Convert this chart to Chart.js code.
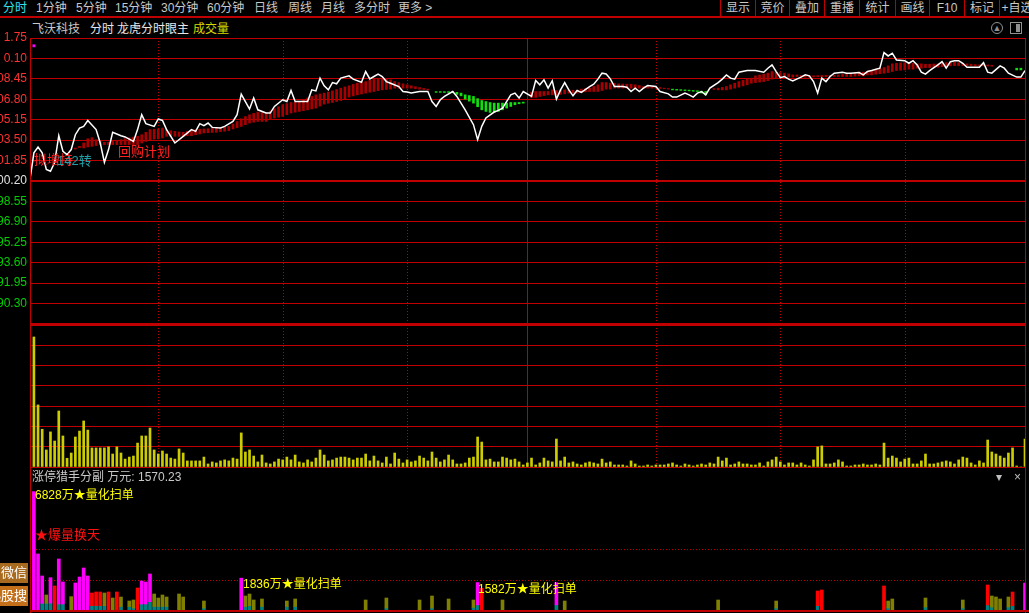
<!DOCTYPE html>
<html>
<head>
<meta charset="utf-8">
<script src="https://cdn.jsdelivr.net/npm/chart.js@4.4.0/dist/chart.umd.min.js"></script>
<style>
body{margin:0;background:#000;width:1029px;height:613px;overflow:hidden;position:relative;font-family:"Liberation Sans","Noto Sans CJK SC",sans-serif;font-size:12px;color:#c8c8c8}
.t{position:absolute;white-space:nowrap;line-height:14px;height:14px}
.sep{position:absolute;top:0;width:1px;height:17px;background:#c00000}
.vline{position:absolute;top:38px;width:1px;height:575px;background:#c00000}
.btn{position:absolute;left:0;width:28px;height:20px;overflow:hidden;color:#fff;font-size:13px}
.btn span{position:absolute;right:1px;top:1px;white-space:nowrap;line-height:18px}
canvas{position:absolute;left:0}
</style>
</head>
<body>
<div id="toolbar"></div>
<div style="position:absolute;left:0;top:16px;width:1029px;height:2px;background:#c00000"></div>

<div class="t" style="left:32px;top:22px">飞沃科技</div>
<div class="t" style="left:90px;top:22px;color:#e8e8e8">分时</div>
<div class="t" style="left:117px;top:22px;color:#e8e8e8">龙虎分时眼主</div>
<div class="t" style="left:193px;top:22px;color:#d8d800">成交量</div>
<div style="position:absolute;left:991px;top:22px;width:10px;height:10px;border:1px solid #909090;border-radius:6px;color:#909090;font-size:9px;line-height:10px;text-align:center">▲</div>
<div style="position:absolute;left:1010px;top:22px;width:10px;height:10px;border:1px solid #909090"><div style="position:absolute;right:1px;top:1px;width:4px;height:8px;background:#909090"></div></div>

<canvas id="price" width="1029" height="300" style="top:28px"></canvas>
<canvas id="vol" width="1029" height="147" style="top:323px"></canvas>
<canvas id="sub" width="1029" height="130" style="top:483px"></canvas>

<div class="vline" style="left:30px"></div>
<div class="vline" style="left:1025px"></div>

<div class="t" style="left:34px;top:153px;color:#ff2020;font-size:13px">拟增持</div>
<div class="t" style="left:57px;top:154px;color:#20a0a8;font-size:13px">142转</div>
<div class="t" style="left:118px;top:145px;color:#ff2020;font-size:13px">回购计划</div>

<div class="t" style="left:32px;top:470px">涨停猎手分副 万元: 1570.23</div>
<div class="t" style="left:996px;top:470px;color:#c0c0c0">▾</div>
<div class="t" style="left:1014px;top:470px;color:#c0c0c0">×</div>

<div class="t" style="left:35px;top:488px;color:#ffff00">6828万★量化扫单</div>
<div class="t" style="left:35px;top:528px;color:#ff1010;font-size:13px">★爆量换天</div>
<div class="t" style="left:243px;top:577px;color:#ffff00">1836万★量化扫单</div>
<div class="t" style="left:478px;top:582px;color:#ffff00">1582万★量化扫单</div>

<div class="btn" style="top:563px;background:#a86a1e"><span>加微信</span></div>
<div class="btn" style="top:586px;background:#c4701a"><span>热股搜</span></div>

<script>
const toolbarLeft = [['分时',3,'#30e0f0'],['1分钟',36],['5分钟',76],['15分钟',115],['30分钟',161],['60分钟',207],['日线',254],['周线',288],['月线',321],['多分时',354],['更多 >',398]]
const toolbarRight = ['显示','竞价','叠加','重播','统计','画线','F10','标记','+自选']
const toolbarSeps = [720,755,789,824,859,895,929,964,999]

const minuteMin = -0.94
const minuteMax = 239
const dottedMinutes = [30,60,90,150,180,210]
const middayMinute = 119

const priceTicks = [111.75,110.10,108.45,106.80,105.15,103.50,101.85,100.20,98.55,96.90,95.25,93.60,91.95,90.30,88.65]
const priceLabels = ['1.75','0.10','08.45','06.80','05.15','03.50','01.85','00.20','98.55','96.90','95.25','93.60','91.95','90.30','']
const prevClose = 100.20

const priceMinute = [-1,0,1,2,3,4,5,6,7,8,9,10,11,12,13,15,16,17,18,19,21,22,24,25,26,27,29,30,31,32,34,36,38,39,
  40,41,42,43,45,46,48,49,50,51,52,53,54,56,57,58,60,61,62,63,66,67,68,69,70,71,72,73,74,76,77,79,
  80,81,82,83,84,85,86,88,89,90,91,93,95,96,97,98,99,101,102,104,106,107,108,109,111,112,113,115,116,117,118,
  120,121,122,123,124,125,126,127,128,129,130,131,132,134,135,136,137,138,139,140,142,143,144,145,146,147,148,150,151,153,154,155,157,158,159,
  160,161,162,163,165,166,167,168,169,170,172,174,176,177,178,179,180,181,182,183,185,186,187,188,189,190,191,192,193,195,196,197,199,
  200,201,202,204,205,206,207,208,210,211,212,213,214,215,216,218,219,220,221,222,223,224,225,228,229,230,231,233,234,235,237,238,239]
const priceValue = [100.18,102.47,102.95,102.47,101.13,100.99,101.69,103.86,102.60,102.33,102.74,103.94,104.48,104.61,105.09,104.35,103.27,101.71,102.74,104.13,103.86,103.76,103.40,104.35,105.55,104.83,104.61,105.21,105.09,104.35,103.27,103.81,104.35,104.21,
  104.83,104.67,104.88,104.53,104.48,104.61,105.01,105.55,107.22,106.62,106.01,106.90,105.95,105.69,105.69,106.22,106.76,106.62,107.51,106.62,106.62,107.56,107.48,108.51,107.89,107.56,108.15,108.05,108.51,108.69,108.43,108.18,
  109.04,108.45,108.64,108.83,108.64,108.23,108.10,107.83,107.43,107.38,107.30,107.43,107.43,106.62,106.22,106.76,107.03,107.43,107.03,105.95,104.75,103.54,104.61,105.29,105.77,105.90,106.09,107.16,107.30,106.90,107.43,
  107.03,108.31,107.97,108.37,107.70,108.30,106.82,107.56,108.15,107.56,107.08,107.51,107.35,107.83,108.02,108.43,108.91,108.85,108.45,107.83,107.83,107.78,107.43,107.70,107.43,107.70,107.91,107.83,107.43,107.24,106.98,106.98,107.30,107.16,106.98,
  107.30,107.43,107.16,107.70,108.15,108.43,108.77,108.51,108.43,108.99,109.12,109.12,108.99,109.31,109.58,109.04,108.55,108.64,108.43,108.29,108.59,108.77,108.69,108.23,107.30,108.51,108.23,108.64,108.91,108.99,108.91,108.91,108.96,
  108.77,109.04,109.12,109.31,110.57,110.30,110.52,109.98,109.92,109.71,109.92,109.58,108.99,108.83,109.12,109.58,109.84,109.31,109.84,109.92,109.92,109.71,109.39,109.39,109.76,108.99,108.91,109.50,109.31,108.91,108.59,108.59,109.12]

// 龙虎分时眼主: [minute, low, high]
const redBars = [
  [10,102.78,102.86],[11,102.90,103.00],[12,102.87,103.27],[13,102.95,103.62],[14,103.00,103.70],[15,103.06,103.54],[16,103.14,103.40],[17,103.14,103.32],[18,103.14,103.32],[19,103.14,103.40],
  [20,103.14,103.48],[21,103.14,103.54],[22,103.14,103.62],[23,103.14,103.68],[24,103.14,103.75],[25,103.14,103.81],[26,103.27,103.94],[27,103.40,104.13],[28,103.54,104.35],[29,103.58,104.38],
  [30,103.60,104.40],[31,103.68,104.48],[32,103.81,104.35],[33,103.81,104.26],[34,103.81,104.21],[35,103.81,104.16],[36,103.81,104.13],[37,103.86,104.21],[38,103.86,104.29],[39,103.94,104.35],
  [40,104.00,104.38],[41,104.08,104.40],[42,104.10,104.42],[43,104.12,104.45],[44,104.13,104.48],[45,104.18,104.52],[46,104.22,104.56],[47,104.26,104.61],[48,104.40,104.80],[49,104.50,105.00],
  [50,104.61,105.23],[51,104.75,105.40],[52,104.88,105.55],[53,104.95,105.66],[54,105.01,105.77],[55,105.01,105.73],[56,105.01,105.69],[57,105.15,105.85],[58,105.29,106.04],[59,105.36,106.20],
  [60,105.42,106.36],[61,105.55,106.45],[62,105.69,106.54],[63,105.76,106.58],[64,105.82,106.62],[65,105.88,106.76],[66,105.95,106.90],[67,106.02,107.03],[68,106.09,107.16],[69,106.25,107.23],
  [70,106.41,107.30],[71,106.48,107.39],[72,106.54,107.48],[73,106.62,107.59],[74,106.70,107.70],[75,106.84,107.80],[76,106.98,107.89],[77,107.07,108.00],[78,107.16,108.10],[79,107.23,108.16],
  [80,107.30,108.23],[81,107.37,108.33],[82,107.43,108.43],[83,107.50,108.47],[84,107.56,108.51],[85,107.59,108.44],[86,107.62,108.37],[87,107.70,108.23],[88,107.70,108.14],[89,107.70,108.05],
  [90,107.70,107.97],[91,107.70,107.89],[92,107.66,107.82],[93,107.62,107.75],[94,107.59,107.68],[95,107.56,107.62],
  [120,106.95,107.38],[121,106.95,107.43],[122,107.03,107.43],[123,107.10,107.43],[124,107.16,107.43],[125,107.16,107.56],[126,107.16,107.51],[127,107.20,107.54],[128,107.24,107.56],[129,107.30,107.56],
  [130,107.30,107.53],[131,107.30,107.51],[132,107.35,107.62],[133,107.40,107.66],[134,107.43,107.70],[135,107.43,107.83],[136,107.43,107.97],[137,107.51,108.15],[138,107.62,108.15],[139,107.62,108.10],
  [140,107.70,108.10],[141,107.70,108.05],[142,107.70,108.03],[143,107.70,108.02],[144,107.70,108.02],[145,107.70,107.97],[146,107.70,107.91],[147,107.70,107.83],[148,107.70,107.83],[149,107.70,107.80],
  [150,107.70,107.78],[151,107.67,107.75],[152,107.65,107.70],[153,107.62,107.67],
  [164,107.60,107.66],[165,107.56,107.70],[166,107.56,107.76],[167,107.56,107.83],[168,107.62,107.97],[169,107.70,108.10],
  [170,107.78,108.23],[171,107.88,108.33],[172,107.97,108.43],[173,108.10,108.51],[174,108.15,108.69],[175,108.19,108.76],[176,108.23,108.83],[177,108.31,108.91],[178,108.43,109.04],[179,108.51,108.99],
  [180,108.59,108.96],[181,108.59,108.91],[182,108.59,108.85],[183,108.59,108.77],[184,108.64,108.77],[185,108.62,108.72],[186,108.59,108.69],[187,108.60,108.69],[188,108.61,108.70],[189,108.62,108.71],
  [190,108.62,108.72],[191,108.63,108.73],[192,108.63,108.74],[193,108.64,108.75],[194,108.64,108.77],[195,108.64,108.81],[196,108.64,108.85],[197,108.64,108.91],[198,108.67,108.95],[199,108.69,108.99],
  [200,108.69,108.99],[201,108.77,109.04],[202,108.77,109.12],[203,108.83,109.23],[204,108.87,109.30],[205,108.91,109.36],[206,108.96,109.50],[207,109.04,109.66],[208,109.12,109.71],[209,109.15,109.74],
  [210,109.17,109.76],[211,109.23,109.76],[212,109.23,109.71],[213,109.31,109.66],[214,109.31,109.66],[215,109.36,109.63],[216,109.36,109.63],[217,109.38,109.65],[218,109.39,109.66],[219,109.44,109.71],
  [220,109.50,109.76],[221,109.50,109.79],[222,109.52,109.79],[223,109.52,109.76],[224,109.52,109.71],[225,109.52,109.66],[226,109.52,109.63],[227,109.51,109.60],[228,109.50,109.58],[229,109.50,109.58],
  [230,109.49,109.57],[231,109.47,109.55]
]
const greenBars = [
  [97,107.36,107.42],[98,107.36,107.42],[99,107.35,107.42],[100,107.35,107.42],[101,107.33,107.40],[102,107.20,107.36],[103,107.08,107.30],[104,106.82,107.16],[105,106.65,107.10],[106,106.49,107.03],
  [107,106.20,106.85],[108,105.95,106.70],[109,105.82,106.62],[110,105.74,106.54],[111,105.74,106.49],[112,105.82,106.49],[113,105.95,106.49],[114,106.09,106.49],[115,106.22,106.54],[116,106.36,106.54],
  [117,106.44,106.54],[118,106.49,106.57],
  [154,107.56,107.62],[155,107.54,107.60],[156,107.52,107.58],[157,107.50,107.56],[158,107.48,107.54],[159,107.45,107.51],[160,107.43,107.49],[161,107.30,107.45],[162,107.16,107.43],
  [237,109.17,109.31],[238,109.17,109.31]
]
const markerPoint = [0,111.12]

const volTicks = [0,100,200,300,400,500,600,700]
const volume = [641,306,186,84,173,128,276,153,43,69,
  148,177,227,182,94,94,94,94,99,64,
  99,69,39,49,54,118,153,153,192,84,
  64,79,64,44,39,89,69,30,30,30,
  30,49,15,25,20,30,35,30,44,39,
  168,74,84,54,25,59,20,15,25,39,
  35,49,35,59,25,20,35,25,44,84,
  59,30,35,44,49,49,44,35,44,44,
  64,30,54,30,20,49,15,69,39,20,
  35,25,30,54,44,30,74,44,25,35,
  59,35,15,15,20,44,49,148,123,35,
  39,25,25,49,44,35,39,25,10,20,
  44,10,20,44,30,25,138,30,49,20,
  25,15,10,20,25,20,15,39,20,25,
  10,10,10,5,30,15,5,5,10,5,
  10,10,10,15,20,10,5,15,10,5,
  10,15,10,20,15,49,30,44,10,15,
  25,15,15,10,10,20,5,25,35,49,
  25,10,20,20,10,20,10,5,35,99,
  104,15,15,20,35,25,5,5,10,10,
  15,10,10,15,10,118,44,54,44,25,
  39,44,15,15,30,64,15,15,20,25,
  30,25,15,35,49,44,20,10,30,20,
  133,74,64,54,44,69,94,5,0,138]

// 涨停猎手分副, 万元: [minute, total, teal part]
const subMagenta = [[0,6828,0],[1,3231,0],[2,1962,385],[4,1864,400],[6,2943,346],[7,1616,346],[10,1558,0],[11,1904,0],[12,2423,0],[13,1962,0],
  [26,1673,346],[27,1616,346],[28,2077,480],[50,1836,0],[107,1582,300],[126,1575,300],[239,1558,0]]
const subRed = [[5,1385,0],[14,981,250],[15,1039,250],[16,1039,250],[18,1039,0],[20,1039,0],[25,1270,0],[108,1252,0],
  [189,1096,250],[190,1154,0],[205,1385,0],[230,1442,290],[236,1039,250]]
const subOlive = [[3,866,385],[9,770,0],[17,981,250],[19,692,0],[21,750,200],[23,519,200],[24,577,115],[29,923,200],[30,692,200],[31,866,200],[32,750,200],
  [35,923,0],[36,750,0],[41,519,115],[51,808,200],[52,923,250],[53,577,0],[55,635,200],[61,519,200],[63,635,200],[80,577,0],[85,692,115],
  [93,577,0],[96,808,115],[100,635,0],[106,577,150],[113,577,0],[128,519,0],[165,577,0],[179,519,115],[206,519,115],[207,635,0],[215,692,170],
  [224,577,115],[231,808,170],[232,750,0],[233,635,0],[235,750,170]]
const subMax = 7210
const subDotted = [1731,3520]

const gridRed = '#c00000'

const tb = document.getElementById('toolbar')
toolbarLeft.forEach(it => {
  const d = document.createElement('div')
  d.className = 't'
  d.style.left = it[1] + 'px'
  d.style.top = '1px'
  d.style.color = it[2] || '#c8c8c8'
  d.textContent = it[0]
  tb.appendChild(d)
})
toolbarSeps.forEach((x, i) => {
  const s = document.createElement('div')
  s.className = 'sep'
  s.style.left = x + 'px'
  tb.appendChild(s)
  const d = document.createElement('div')
  d.className = 't'
  const w = (toolbarSeps[i + 1] || 1034) - x
  d.style.left = (x + 1) + 'px'
  d.style.width = (w - 1) + 'px'
  d.style.textAlign = 'center'
  d.style.top = '1px'
  d.textContent = toolbarRight[i]
  tb.appendChild(d)
})

const makeX = () => ({type: 'linear', min: minuteMin, max: minuteMax, offset: false, display: false})
const fitY = s => { s.width = 30; s.paddingTop = 0; s.paddingBottom = 0 }

const vGrid = {
  id: 'vGrid',
  beforeDatasetsDraw(chart) {
    const {ctx, chartArea, scales} = chart
    const x = scales.x
    ctx.save()
    ctx.strokeStyle = gridRed
    ctx.lineWidth = 1
    ctx.setLineDash([1, 2])
    dottedMinutes.forEach(m => {
      const px = Math.round(x.getPixelForValue(m)) + 0.5
      ctx.beginPath()
      ctx.moveTo(px, chartArea.top)
      ctx.lineTo(px, chartArea.bottom)
      ctx.stroke()
    })
    ctx.setLineDash([])
    const px = Math.round(x.getPixelForValue(middayMinute)) + 0.5
    ctx.beginPath()
    ctx.moveTo(px, chartArea.top)
    ctx.lineTo(px, chartArea.bottom)
    ctx.stroke()
    ctx.restore()
  }
}

new Chart(document.getElementById('price'), {
  type: 'bar',
  data: {
    datasets: [
      {type: 'line', data: priceMinute.map((m, i) => ({x: m, y: priceValue[i]})), borderColor: '#ffffff', borderWidth: 1.5,
        pointRadius: 0, tension: 0, order: 0},
      {type: 'line', data: [{x: markerPoint[0], y: markerPoint[1]}], showLine: false, pointStyle: 'rect', pointRadius: 2,
        backgroundColor: '#ff00ff', borderWidth: 0, order: 0},
      {data: redBars.map(b => ({x: b[0], y: [b[1], b[2]]})), backgroundColor: '#a80000', barThickness: 2, grouped: false, order: 1},
      {data: greenBars.map(b => ({x: b[0], y: [b[1], b[2]]})), backgroundColor: '#10e010', barThickness: 2, grouped: false, order: 1}
    ]
  },
  options: {
    responsive: false,
    animation: false,
    layout: {padding: {left: 0, right: 4, top: 10, bottom: 3}},
    plugins: {legend: {display: false}, tooltip: {enabled: false}},
    scales: {
      x: makeX(),
      y: {
        min: 88.65, max: 111.75,
        afterBuildTicks: s => { s.ticks = priceTicks.map(v => ({value: v})) },
        afterFit: fitY,
        border: {color: gridRed},
        grid: {color: gridRed, drawTicks: false,
          lineWidth: c => (c.tick && (c.tick.value === prevClose || c.tick.value === 88.65)) ? 2 : 1},
        ticks: {
          autoSkip: false, padding: 3,
          font: {family: 'Liberation Sans', size: 12},
          color: c => c.tick.value > prevClose ? '#ff3030' : (c.tick.value === prevClose ? '#e0e0e0' : '#00d000'),
          callback: (v, i) => priceLabels[i]
        }
      }
    }
  },
  plugins: [vGrid]
})

new Chart(document.getElementById('vol'), {
  type: 'bar',
  data: {
    datasets: [{data: volume.map((v, i) => ({x: i, y: v})), backgroundColor: '#cccc00', barThickness: 2}]
  },
  options: {
    responsive: false,
    animation: false,
    layout: {padding: {left: 0, right: 4, top: 2, bottom: 3}},
    plugins: {legend: {display: false}, tooltip: {enabled: false}},
    scales: {
      x: makeX(),
      y: {
        min: 0, max: 700,
        afterBuildTicks: s => { s.ticks = volTicks.map(v => ({value: v})) },
        afterFit: fitY,
        border: {color: gridRed},
        grid: {color: gridRed, drawTicks: false, lineWidth: c => (c.tick && c.tick.value === 700) ? 2 : 1},
        ticks: {display: false}
      }
    }
  },
  plugins: [vGrid]
})

const subLines = {
  id: 'subLines',
  beforeDatasetsDraw(chart) {
    const {ctx, chartArea, scales} = chart
    const y = scales.y
    ctx.save()
    ctx.strokeStyle = gridRed
    ctx.lineWidth = 1
    ctx.setLineDash([1, 2])
    subDotted.forEach(v => {
      const py = Math.round(y.getPixelForValue(v)) + 0.5
      ctx.beginPath()
      ctx.moveTo(chartArea.left, py)
      ctx.lineTo(chartArea.right, py)
      ctx.stroke()
    })
    ctx.restore()
  },
  afterDatasetsDraw(chart) {
    const {ctx, scales} = chart
    const py = Math.round(scales.y.getPixelForValue(0))
    ctx.save()
    ctx.fillStyle = gridRed
    ctx.fillRect(30, py, chart.width - 30, 2)
    ctx.restore()
  }
}

const tealPart = [...subMagenta, ...subRed, ...subOlive].filter(b => b[2] > 0)
const subSet = (rows, color) => ({data: rows.map(b => ({x: b[0], y: [b[2], b[1]]})), backgroundColor: color, barThickness: 3, grouped: false})

new Chart(document.getElementById('sub'), {
  type: 'bar',
  data: {
    datasets: [
      subSet(subMagenta, '#ff00ff'),
      subSet(subRed, '#ff0000'),
      subSet(subOlive, '#808000'),
      {data: tealPart.map(b => ({x: b[0], y: [0, b[2]]})), backgroundColor: '#008080', barThickness: 3, grouped: false}
    ]
  },
  options: {
    responsive: false,
    animation: false,
    layout: {padding: {left: 0, right: 4, top: 2, bottom: 3}},
    plugins: {legend: {display: false}, tooltip: {enabled: false}},
    scales: {
      x: makeX(),
      y: {
        min: 0, max: subMax,
        afterFit: fitY,
        border: {display: false},
        grid: {display: false},
        ticks: {display: false}
      }
    }
  },
  plugins: [subLines]
})
</script>
</body>
</html>
